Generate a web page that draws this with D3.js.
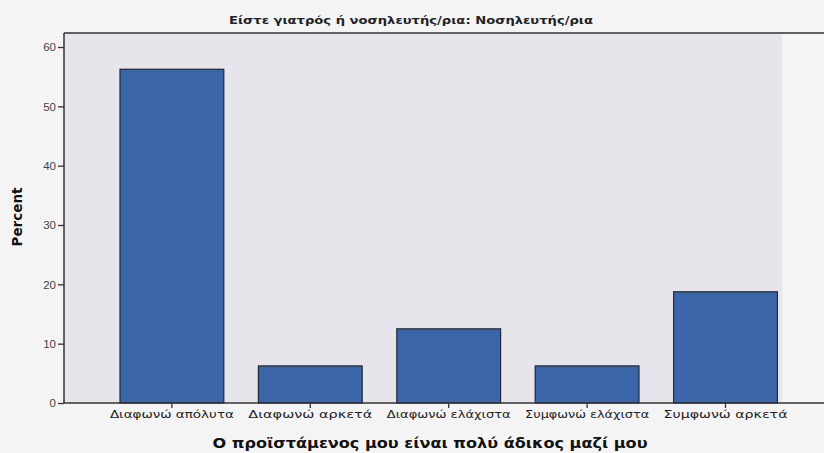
<!DOCTYPE html>
<html>
<head>
<meta charset="utf-8">
<script src="https://cdn.jsdelivr.net/npm/d3@7"></script>
<style>
  body { margin: 0; background: #f4f4f5; }
  text { font-family: "DejaVu Sans", "Liberation Sans", sans-serif; }
</style>
</head>
<body>
<svg id="chart" width="824" height="453"></svg>
<script>
var categories = ["Διαφωνώ απόλυτα", "Διαφωνώ αρκετά", "Διαφωνώ ελάχιστα", "Συμφωνώ ελάχιστα", "Συμφωνώ αρκετά"];
var percents = [56.25, 6.25, 12.5, 6.25, 18.75];
var yTicks = [0, 10, 20, 30, 40, 50, 60];
var chartTitle = "Είστε γιατρός ή νοσηλευτής/ρια: Νοσηλευτής/ρια";
var xTitle = "Ο προϊστάμενος μου είναι πολύ άδικος μαζί μου";
var yTitle = "Percent";

var data = categories.map(function(c, i) { return {cat: c, value: percents[i]}; });

var svg = d3.select("#chart");

var plotLeft = 64, plotRight = 824, plotTop = 33, plotBottom = 403;

var xScale = d3.scaleBand()
    .domain(categories)
    .range([102.7, 794.7])
    .paddingInner(0.25)
    .paddingOuter(0.125);

var yScale = d3.scaleLinear()
    .domain([0, 60])
    .range([plotBottom, 47]);

// plot background
svg.append("rect")
    .attr("x", plotLeft)
    .attr("y", plotTop)
    .attr("width", 782 - plotLeft)
    .attr("height", plotBottom - plotTop)
    .style("fill", "#e5e5eb");

svg.append("line")
    .attr("x1", plotLeft).attr("x2", plotRight)
    .attr("y1", plotTop).attr("y2", plotTop)
    .style("stroke", "#333").style("stroke-width", 1.5);

svg.selectAll(".bar")
    .data(data)
    .enter().append("rect")
    .attr("class", "bar")
    .attr("x", function(d) { return xScale(d.cat); })
    .attr("width", xScale.bandwidth())
    .attr("y", function(d) { return yScale(d.value); })
    .attr("height", function(d) { return plotBottom - yScale(d.value); })
    .style("fill", "#3a65a8")
    .style("stroke", "#1f2a3a")
    .style("stroke-width", 1.2);

var yAxis = d3.axisLeft(yScale)
    .tickValues(yTicks)
    .tickSize(6)
    .tickPadding(2);

var gy = svg.append("g")
    .attr("transform", "translate(" + plotLeft + ",0)")
    .call(yAxis);
gy.select(".domain").remove();
gy.append("line")
    .attr("x1", 0).attr("x2", 0)
    .attr("y1", plotTop).attr("y2", plotBottom)
    .style("stroke", "#333").style("stroke-width", 1.5);
gy.selectAll(".tick line").style("stroke", "#333").style("stroke-width", 1.3);
gy.selectAll(".tick text")
    .style("font-family", "Liberation Sans, sans-serif")
    .style("font-size", "11.5px")
    .style("fill", "#444");

var xAxis = d3.axisBottom(xScale)
    .tickSize(5)
    .tickPadding(3);

var gx = svg.append("g")
    .attr("transform", "translate(0," + plotBottom + ")")
    .call(xAxis);
gx.select(".domain").remove();
gx.append("line")
    .attr("x1", plotLeft).attr("x2", plotRight)
    .attr("y1", 0).attr("y2", 0)
    .style("stroke", "#333").style("stroke-width", 1.5);
gx.selectAll(".tick line").style("stroke", "#333").style("stroke-width", 1.3);
gx.selectAll(".tick text")
    .style("font-size", "10px")
    .style("fill", "#222")
    .attr("textLength", 124)
    .attr("lengthAdjust", "spacingAndGlyphs");

svg.append("text")
    .attr("x", 411)
    .attr("y", 24)
    .style("text-anchor", "middle")
    .style("font-size", "10.5px")
    .style("font-weight", "bold")
    .style("fill", "#222")
    .attr("textLength", 364)
    .attr("lengthAdjust", "spacingAndGlyphs")
    .text(chartTitle);

svg.append("text")
    .attr("x", 430)
    .attr("y", 448)
    .style("text-anchor", "middle")
    .style("font-size", "14px")
    .style("font-weight", "bold")
    .style("fill", "#111")
    .attr("textLength", 435)
    .attr("lengthAdjust", "spacingAndGlyphs")
    .text(xTitle);

svg.append("text")
    .attr("transform", "translate(22,217) rotate(-90)")
    .style("text-anchor", "middle")
    .style("font-size", "13.5px")
    .style("font-weight", "bold")
    .style("fill", "#111")
    .text(yTitle);
</script>
</body>
</html>
